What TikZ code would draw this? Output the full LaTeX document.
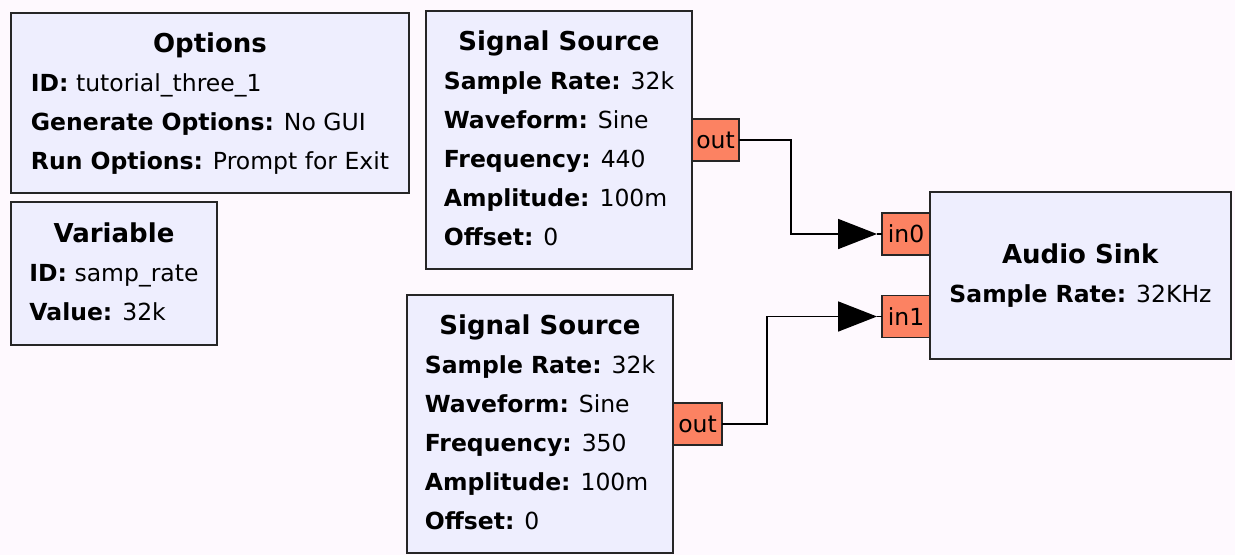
\documentclass[tikz,border=0pt]{standalone}
\usepackage{fontspec}
\setmainfont{DejaVu Sans}
\usetikzlibrary{arrows.meta,calc,positioning}
\definecolor{bgpink}{RGB}{254,249,254}
\definecolor{blkfill}{RGB}{238,238,254}
\definecolor{portfill}{RGB}{252,130,98}
\newcommand{\prm}[2]{\textbf{#1:} #2}
\newcommand{\blktab}[2]{\begin{tabular}{@{}l@{}}\multicolumn{1}{@{}c@{}}{\fontsize{26}{39}\selectfont\textbf{#1}}\\#2\end{tabular}}
\begin{document}
\begin{tikzpicture}[x=1pt,y=-1pt,font=\fontsize{23.5}{39}\selectfont,
  blk/.style={draw=black!85,fill=blkfill,line width=1.6pt,inner sep=0pt,outer sep=0pt},
  port/.style={draw=black!85,fill=portfill,line width=1.6pt,minimum width=47pt,minimum height=42pt,inner sep=0pt,outer sep=0pt},
  wire/.style={line width=1.8pt}, tip/.style={-{Triangle[length=39pt,width=30pt]}}]
  \fill[bgpink] (0,0) rectangle (1235,555);
  \useasboundingbox (0,0) rectangle (1235,555);
  % blocks
  \node[blk,minimum width=398pt,minimum height=180pt](opt) at (210,103)
    {\blktab{Options}{\prm{ID}{tutorial\_three\_1}\\\prm{Generate Options}{No GUI}\\\prm{Run Options}{Prompt for Exit}}};
  \node[blk,minimum width=206pt,minimum height=143pt](var) at (114,273.5)
    {\blktab{Variable}{\prm{ID}{samp\_rate}\\\prm{Value}{32k}}};
  \node[blk,minimum width=266pt,minimum height=258pt](src1) at (559,140)
    {\blktab{Signal Source}{\prm{Sample Rate}{32k}\\\prm{Waveform}{Sine}\\\prm{Frequency}{440}\\\prm{Amplitude}{100m}\\\prm{Offset}{0}}};
  \node[blk,minimum width=266pt,minimum height=258pt](src2) at (540,424)
    {\blktab{Signal Source}{\prm{Sample Rate}{32k}\\\prm{Waveform}{Sine}\\\prm{Frequency}{350}\\\prm{Amplitude}{100m}\\\prm{Offset}{0}}};
  \node[blk,minimum width=301pt,minimum height=167pt](sink) at (1080.5,275.5)
    {\blktab{Audio Sink}{\prm{Sample Rate}{32KHz}}};
  % ports
  \node[port,anchor=west](o1) at (src1.east){out};
  \node[port,anchor=west,minimum width=49pt](o2) at (src2.east){out};
  \node[port,anchor=east,minimum width=48pt](i0) at ($(sink.west)+(0,-41.5)$){in0};
  \node[port,anchor=east,minimum width=48pt](i1) at ($(sink.west)+(0,41)$){in1};
  % connections
  \coordinate(t0) at ($(i0.west)+(-5,0)$);
  \coordinate(t1) at ($(i1.west)+(-5,0)$);
  \draw[wire,tip](o1.east) -- ++(52,0) |- (t0);
  \draw[wire](t0) -- (i0.west);
  \draw[wire,tip](o2.east) -- ++(45,0) |- (t1);
  \draw[wire](t1) -- (i1.west);
\end{tikzpicture}
\end{document}
